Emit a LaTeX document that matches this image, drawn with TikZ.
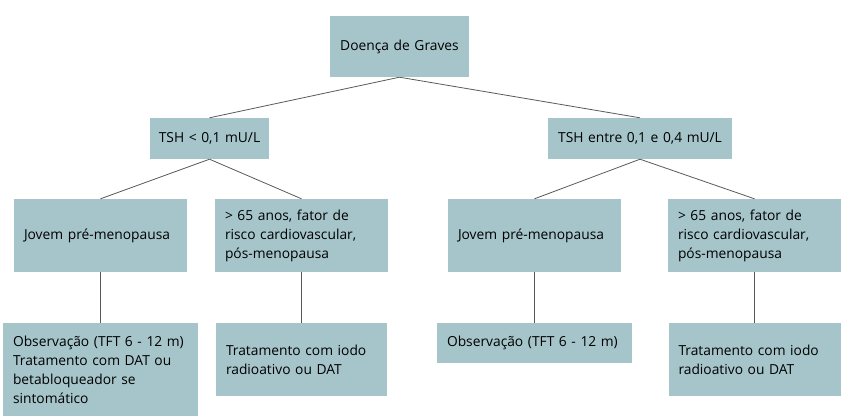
\documentclass[tikz,border=0pt]{standalone}
\usepackage{fontspec}
\setmainfont{Open Sans}
\usepackage{tikz}
\definecolor{boxfill}{HTML}{A5C5CA}
\definecolor{linegray}{HTML}{595959}

\begin{document}
\begin{tikzpicture}[x=1pt,y=-1pt,
		box/.style={fill=boxfill,inner xsep=10pt,inner ysep=0pt,align=left,
			font=\fontsize{13.8}{19}\selectfont},
		head/.style={box,inner xsep=2pt,align=center},
		link/.style={draw=linegray,line width=0.8pt}]
			\useasboundingbox (0,0) rectangle (847,420);
			\node[head,text width=135pt,minimum height=61pt] (root) at (399.5,46.5) {Doença de Graves};
			\node[head,text width=115pt,minimum height=41pt] (tshA) at (209.5,138.5) {TSH < 0,1 mU/L};
			\node[head,text width=180pt,minimum height=41pt] (tshB) at (640,138.5) {TSH entre 0,1 e 0,4 mU/L};
			\node[box,text width=153pt,minimum height=73pt] (jovA) at (100.5,235.5) {Jovem pré-menopausa};
			\node[box,text width=153pt,minimum height=73pt] (velA) at (301.5,235.5) {> 65 anos, fator de\\risco cardiovascular,\\pós-menopausa};
			\node[box,text width=153pt,minimum height=73pt] (jovB) at (534.5,235.5) {Jovem pré-menopausa};
			\node[box,text width=153pt,minimum height=73pt] (velB) at (754.5,235.5) {> 65 anos, fator de\\risco cardiovascular,\\pós-menopausa};
			\node[box,text width=175pt,minimum height=93pt] (obsA) at (100.5,369.5) {Observação (TFT 6 - 12 m)\\Tratamento com DAT ou\\betabloqueador se\\sintomático};
			\node[box,text width=151pt,minimum height=73pt] (iodA) at (301.5,359.5) {Tratamento com iodo\\radioativo ou DAT};
			\node[box,text width=175pt,minimum height=40pt] (obsB) at (534.5,343) {Observação (TFT 6 - 12 m)};
			\node[box,text width=152pt,minimum height=73pt] (iodB) at (754.5,359.5) {Tratamento com iodo\\radioativo ou DAT};
			\draw[link] (root.south) -- (tshA.north);
			\draw[link] (root.south) -- (tshB.north);
			\draw[link] (tshA.south) -- (jovA.north);
			\draw[link] (tshA.south) -- (velA.north);
			\draw[link] (tshB.south) -- (jovB.north);
			\draw[link] (tshB.south) -- (velB.north);
			\draw[link] (jovA.south) -- (obsA.north);
			\draw[link] (velA.south) -- (iodA.north);
			\draw[link] (jovB.south) -- (obsB.north);
			\draw[link] (velB.south) -- (iodB.north);
		\end{tikzpicture}
\end{document}
